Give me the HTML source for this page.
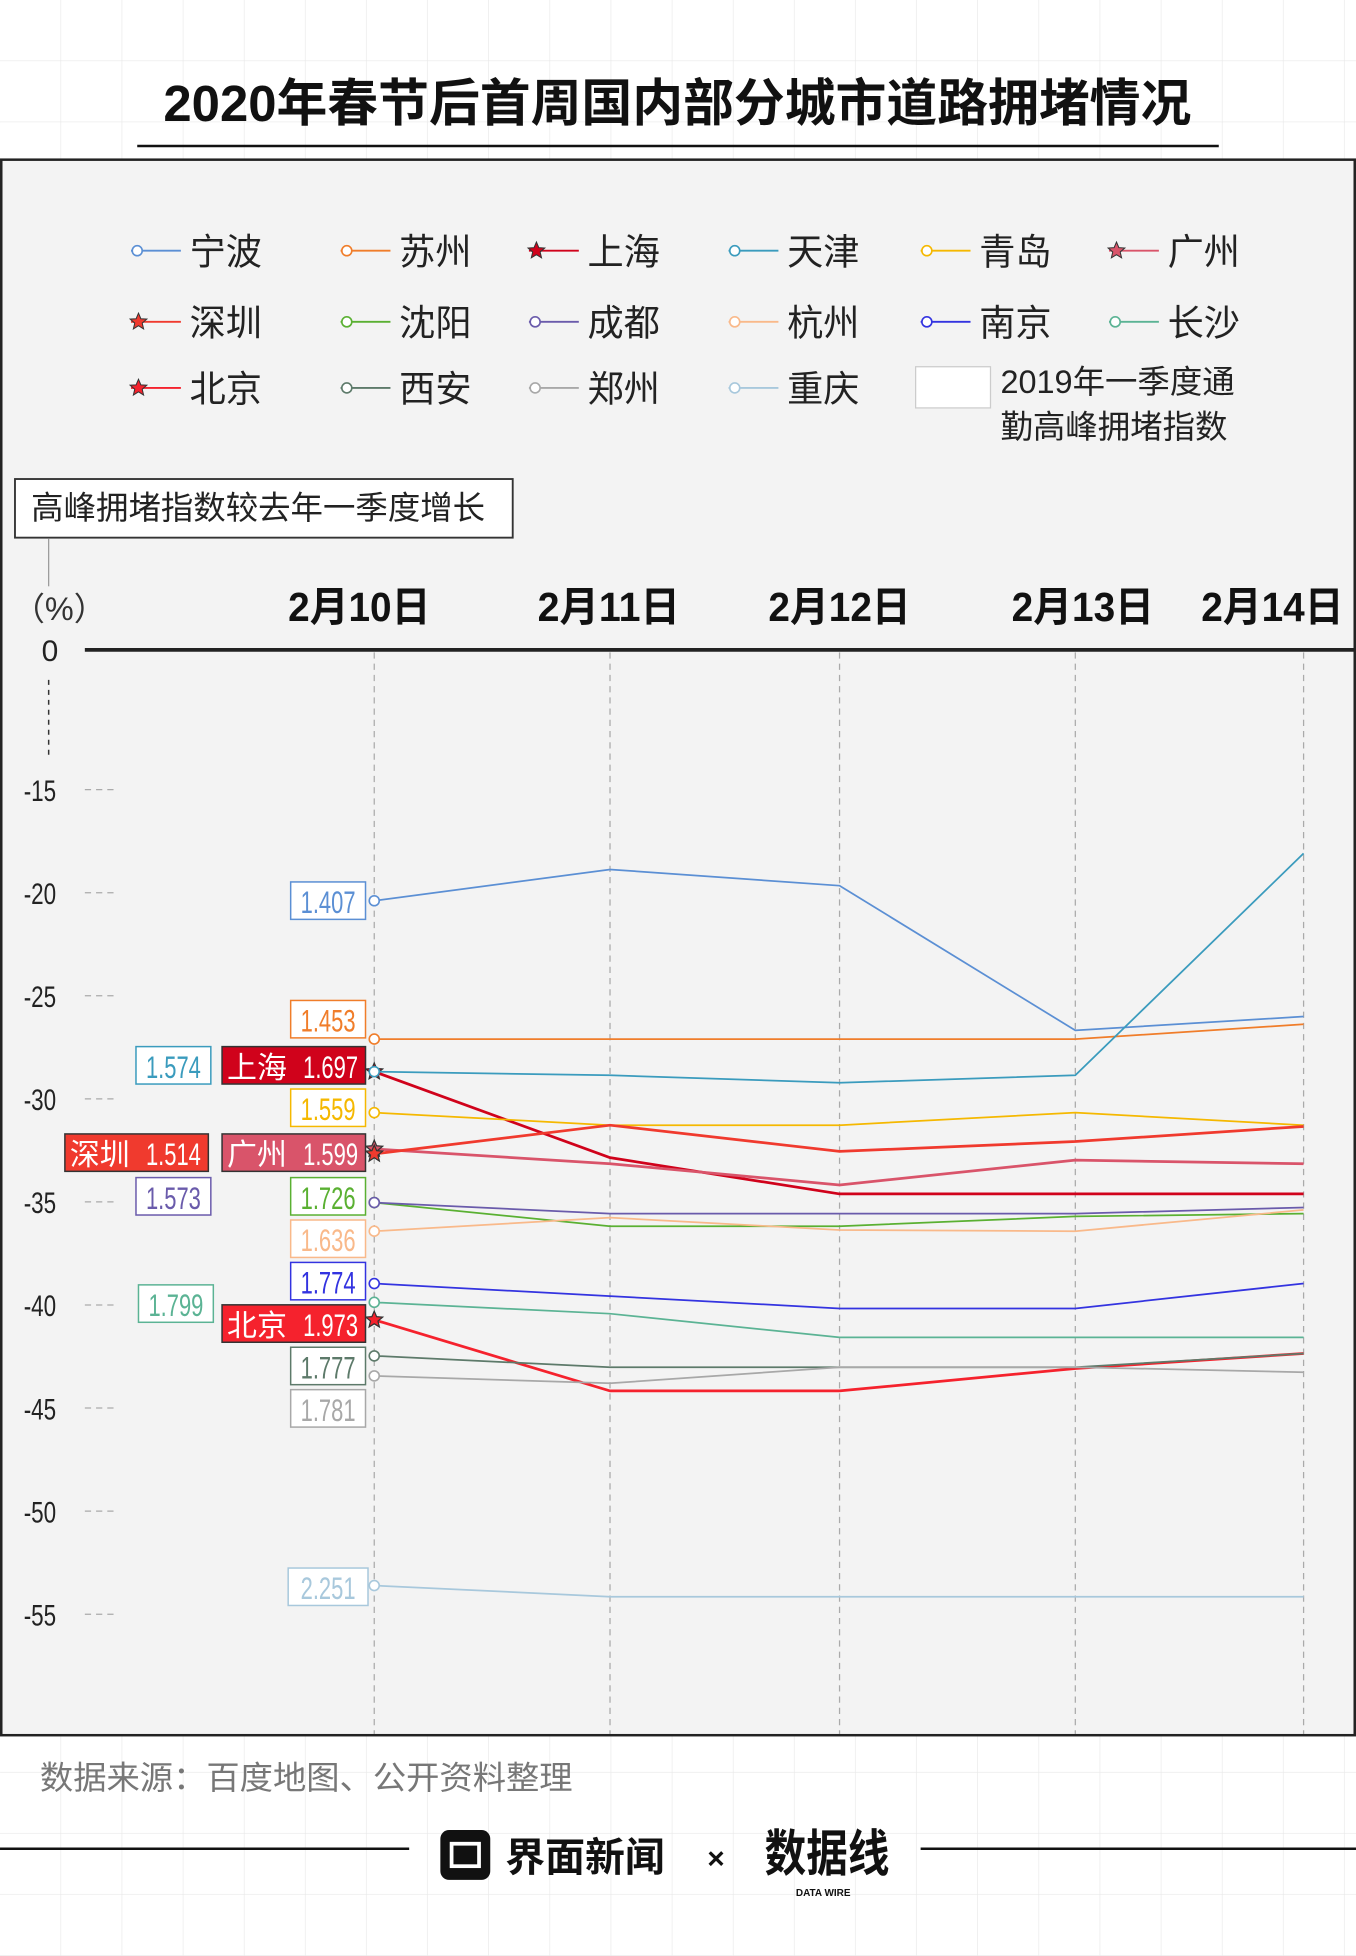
<!DOCTYPE html>
<html><head><meta charset="utf-8">
<style>
html,body{margin:0;padding:0;background:#fff;}
svg{display:block;font-family:"Liberation Sans","Noto Sans CJK SC",sans-serif;}
</style></head>
<body>
<svg id="chart" width="1356" height="1956" viewBox="0 0 1087 1568" xmlns="http://www.w3.org/2000/svg">
<defs>
<pattern id="grid" width="49" height="49" patternUnits="userSpaceOnUse"><path d="M49 0V49H0" fill="none" stroke="#e8e8e8" stroke-width="1"/></pattern>
</defs>
<rect width="1087" height="1568" fill="#fff"/>
<rect width="1087" height="1568" fill="url(#grid)"/>
<text x="543" y="97" text-anchor="middle" font-size="41" font-weight="bold" fill="#111" textLength="824" lengthAdjust="spacingAndGlyphs">2020年春节后首周国内部分城市道路拥堵情况</text>
<line x1="110" y1="117" x2="977" y2="117" stroke="#111" stroke-width="2"/>
<rect x="1" y="128" width="1085" height="1263" fill="#f3f3f3" stroke="#222" stroke-width="2"/>
<g id="legend"></g>
<rect x="734" y="294" width="60" height="33" fill="#fff" stroke="#ccc"/>
<text font-size="26" fill="#222"><tspan x="802" y="315">2019年一季度通</tspan><tspan x="802" y="351">勤高峰拥堵指数</tspan></text>
<rect x="12" y="384" width="399" height="47" fill="#fff" stroke="#333" stroke-width="1.5"/>
<text x="25" y="416" font-size="26" fill="#222">高峰拥堵指数较去年一季度增长</text>
<line x1="39" y1="432" x2="39" y2="470" stroke="#999" stroke-width="1"/>
<text x="10" y="497" font-size="26" fill="#333">（%）</text>
<g id="axes"></g>
<g id="series"></g>
<g id="labels"></g>
<text x="32" y="1434" font-size="26" fill="#777" textLength="427" lengthAdjust="spacingAndGlyphs">数据来源：百度地图、公开资料整理</text>
<line x1="0" y1="1482" x2="328" y2="1482" stroke="#111" stroke-width="2"/>
<line x1="738" y1="1482" x2="1087" y2="1482" stroke="#111" stroke-width="2"/>
<g>
<rect x="353" y="1467" width="40" height="40" rx="7" fill="#111"/>
<rect x="362" y="1478" width="22" height="18" fill="none" stroke="#fff" stroke-width="3"/>
<text x="405" y="1500" font-size="32" font-weight="bold" fill="#111">界面新闻</text>
</g>
<text x="567" y="1498" font-size="24" font-weight="bold" fill="#111">×</text>
<g>
<text x="613" y="1500" font-size="40" font-weight="bold" fill="#111" textLength="100" lengthAdjust="spacingAndGlyphs">数据线</text>
<text x="638" y="1520" font-size="8" font-weight="bold" fill="#111">DATA WIRE</text>
</g>
</svg>
<script>
const dates = ["2月10日","2月11日","2月12日","2月13日","2月14日"];
const yTicks = [-15,-20,-25,-30,-35,-40,-45,-50,-55];
const cities = ["宁波","苏州","上海","天津","青岛","广州","深圳","沈阳","成都","杭州","南京","长沙","北京","西安","郑州","重庆"];
const colors = ["#5b8fd4","#f07d2a","#d0021b","#3a9bbd","#f5b800","#d9546a","#f03a2e","#5ab032","#6a5bab","#f9b98a","#3333e0","#5bb394","#f5222d","#5d7a6a","#a8a8a8","#a8c8dc"];
const starCities = ["上海","广州","深圳","北京"];
const vNingbo = [-20.39,-18.87,-19.66,-26.68,-26.01];
const vSuzhou = [-27.1,-27.1,-27.1,-27.1,-26.38];
const vShanghai = [-28.68,-32.85,-34.61,-34.61,-34.61];
const vTianjin = [-28.68,-28.86,-29.22,-28.86,-18.09];
const vQingdao = [-30.67,-31.28,-31.28,-30.67,-31.28];
const vGuangzhou = [-32.43,-33.15,-34.18,-32.97,-33.15];
const vShenzhen = [-32.67,-31.28,-32.55,-32.07,-31.34];
const vShenyang = [-35.03,-36.18,-36.18,-35.7,-35.57];
const vChengdu = [-35.03,-35.57,-35.57,-35.57,-35.27];
const vHangzhou = [-36.42,-35.76,-36.36,-36.42,-35.39];
const vNanjing = [-38.96,-39.57,-40.17,-40.17,-38.96];
const vChangsha = [-39.87,-40.42,-41.57,-41.57,-41.57];
const vBeijing = [-40.72,-44.17,-44.17,-43.08,-42.35];
const vXian = [-42.47,-43.02,-43.02,-43.02,-42.35];
const vZhengzhou = [-43.44,-43.8,-43.02,-43.02,-43.26];
const vChongqing = [-53.61,-54.15,-54.15,-54.15,-54.15];
const index2019 = ["1.407","1.453","1.697","1.574","1.559","1.599","1.514","1.726","1.573","1.636","1.774","1.799","1.973","1.777","1.781","2.251"];

const NS="http://www.w3.org/2000/svg";
const seriesVals=[vNingbo,vSuzhou,vShanghai,vTianjin,vQingdao,vGuangzhou,vShenzhen,vShenyang,vChengdu,vHangzhou,vNanjing,vChangsha,vBeijing,vXian,vZhengzhou,vChongqing];
const xPos=[300,489,673,862,1045];
const labelOffset=[-12,-1,0,6,-25];
function xScale(i){return xPos[i];}
function yScale(v){return 633+(-15-v)*16.525;}
function mk(tag,attrs,parent){const e=document.createElementNS(NS,tag);for(const k in attrs)e.setAttribute(k,attrs[k]);parent.appendChild(e);return e;}
function star(cx,cy,r){let p=[];for(let i=0;i<10;i++){const a=-Math.PI/2+i*Math.PI/5;const rr=i%2?r*0.45:r;p.push((cx+rr*Math.cos(a)).toFixed(1)+","+(cy+rr*Math.sin(a)).toFixed(1));}return p.join(" ");}

const axes=document.getElementById('axes');
dates.forEach((d,i)=>{
  const t=mk('text',{x:xScale(i)+labelOffset[i],y:498,'font-size':33,'font-weight':'bold','text-anchor':'middle',fill:'#111',textLength:114,lengthAdjust:'spacingAndGlyphs'},axes);
  
  
  t.textContent=d;
  const l=mk('line',{x1:xScale(i),y1:523,x2:xScale(i),y2:1390,stroke:'#aaa','stroke-width':1,'stroke-dasharray':'5,4'},axes);
  
  
});
const zl=mk('line',{x1:68,y1:521,x2:1086,y2:521,stroke:'#222','stroke-width':3},axes);


const z=mk('text',{x:40,y:530,'font-size':24,'text-anchor':'middle',fill:'#222'},axes);


z.textContent='0';
mk('line',{x1:39,y1:545,x2:39,y2:608,stroke:'#333','stroke-width':1.2,'stroke-dasharray':'4,4'},axes);
yTicks.forEach(v=>{
  const y=yScale(v);
  const t=mk('text',{x:32,y:y+9,'font-size':24,'text-anchor':'middle',fill:'#222',textLength:26,lengthAdjust:'spacingAndGlyphs'},axes);
  
  
  t.textContent=String(v);
  mk('line',{x1:68,y1:y,x2:93,y2:y,stroke:'#aaa','stroke-width':1,'stroke-dasharray':'5,4'},axes);
});

const sg=document.getElementById('series');
cities.forEach((c,k)=>{
  const vals=seriesVals[k];
  const pts=vals.map((v,i)=>xScale(i)+","+yScale(v).toFixed(1)).join(" ");
  const isStar=starCities.includes(c);
  const pl=mk('polyline',{points:pts,fill:'none',stroke:colors[k],'stroke-width':isStar?2.2:1.4},sg);
  
  
  const cx=xScale(0),cy=yScale(vals[0]);
  let m;
  if(isStar) m=mk('polygon',{points:star(cx,cy,7),fill:colors[k],stroke:'#333','stroke-width':1},sg);
  else m=mk('circle',{cx:cx,cy:cy,r:4,fill:'#fff',stroke:colors[k],'stroke-width':1.3},sg);
  
  
});

const legendOrder=["宁波","苏州","上海","天津","青岛","广州","深圳","沈阳","成都","杭州","南京","长沙","北京","西安","郑州","重庆"];
const lcolX=[105,273,424,584,738,889];
const lrowY=[201,258,311];
const lg=document.getElementById('legend');
legendOrder.forEach((c,n)=>{
  const k=cities.indexOf(c);
  const x=lcolX[n%6],y=lrowY[Math.floor(n/6)];
  const g=mk('g',{},lg);
  
  
  mk('line',{x1:x,y1:y,x2:x+40,y2:y,stroke:colors[k],'stroke-width':1.5},g);
  if(starCities.includes(c)) mk('polygon',{points:star(x+6,y,7),fill:colors[k],stroke:'#333','stroke-width':0.8},g);
  else mk('circle',{cx:x+5,cy:y,r:4,fill:'#fff',stroke:colors[k],'stroke-width':1.3},g);
  const t=mk('text',{x:x+47,y:y+11,'font-size':29,fill:'#222'},g);
  t.textContent=c;
});

const lb=[
 {c:"宁波",x:233,y:707,w:60},{c:"苏州",x:233,y:802,w:60},{c:"上海",x:178,y:839,w:115,f:1},
 {c:"天津",x:109,y:839,w:60},{c:"青岛",x:233,y:873,w:60},{c:"广州",x:178,y:909,w:115,f:1},
 {c:"深圳",x:52,y:909,w:115,f:1},{c:"沈阳",x:233,y:944,w:60},{c:"成都",x:109,y:944,w:60},
 {c:"杭州",x:233,y:978,w:60},{c:"南京",x:233,y:1012,w:60},{c:"长沙",x:111,y:1030,w:60},
 {c:"北京",x:178,y:1046,w:115,f:1},{c:"西安",x:233,y:1080,w:60},{c:"郑州",x:233,y:1114,w:60},
 {c:"重庆",x:231,y:1257,w:64}];
const lab=document.getElementById('labels');
lb.forEach(o=>{
  const k=cities.indexOf(o.c);
  const g=mk('g',{},lab);
  
  
  mk('rect',{x:o.x,y:o.y,width:o.w,height:30,fill:o.f?colors[k]:'#fff',stroke:o.f?'#333':colors[k],'stroke-width':1.2},g);
  if(o.f){
    const t1=mk('text',{x:o.x+4,y:o.y+25,'font-size':24,fill:'#fff'},g);t1.textContent=o.c;
    const t2=mk('text',{x:o.x+o.w-6,y:o.y+25,'font-size':25,fill:'#fff','text-anchor':'end',textLength:44,lengthAdjust:'spacingAndGlyphs'},g);t2.textContent=index2019[k];
  } else {
    const t=mk('text',{x:o.x+o.w/2,y:o.y+25,'font-size':25,fill:colors[k],'text-anchor':'middle',textLength:44,lengthAdjust:'spacingAndGlyphs'},g);t.textContent=index2019[k];
  }
});
</script>
</body></html>
